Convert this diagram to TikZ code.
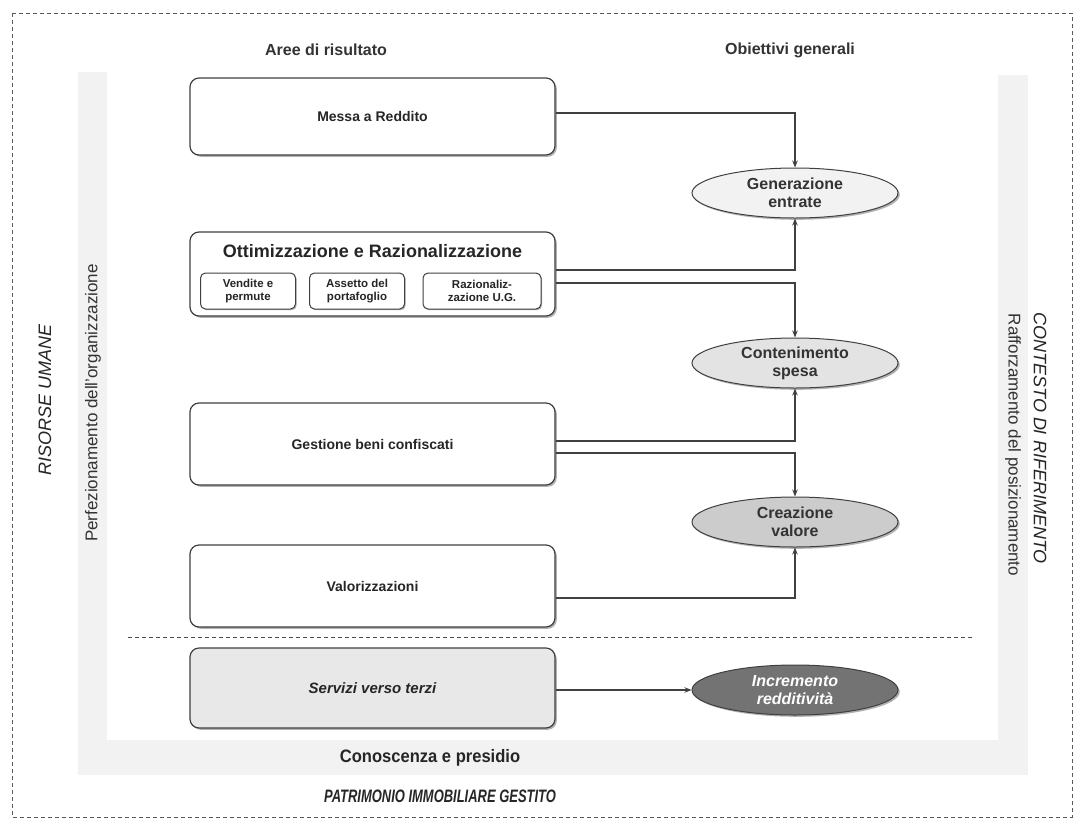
\documentclass[tikz,border=0pt]{standalone}
\usepackage{fontspec}
\setmainfont{Liberation Sans}
\usetikzlibrary{shapes.geometric,shadows,arrows.meta,calc}
\begin{document}
\begin{tikzpicture}[x=1pt,y=-1pt,
  areabox/.style={draw=black!75,line width=1.2pt,rounded corners=9pt,minimum width=365pt,fill=white,
    drop shadow={shadow xshift=1.8pt,shadow yshift=-1.8pt,fill=black!60},
    font=\fontsize{14}{16}\selectfont\bfseries,text=black!85},
  subbox/.style={draw=black!75,line width=1pt,rounded corners=5pt,fill=white,minimum height=36pt,
    drop shadow={shadow xshift=1.2pt,shadow yshift=-1.2pt,fill=black!60},
    font=\fontsize{11.5}{13.5}\selectfont\bfseries,text=black!85,align=center,inner sep=1pt},
  goal/.style={ellipse,draw=black!75,line width=1pt,minimum width=206pt,minimum height=50pt,inner sep=0pt,
    drop shadow={shadow xshift=1.8pt,shadow yshift=-1.8pt,fill=black!60},
    font=\fontsize{16}{18}\selectfont\bfseries,text=black!80,align=center},
  conn/.style={draw=black!75,line width=1.1pt},
  arr/.style={conn,-{Stealth[length=7pt,width=5.5pt]}},
  head/.style={font=\fontsize{16}{19}\selectfont\bfseries,text=black!80},
  sidelab/.style={font=\fontsize{17}{20}\selectfont,text=black!80},
  sidetitle/.style={font=\fontsize{18}{21}\selectfont\itshape,text=black!85}
]
\useasboundingbox (0,0) rectangle (1074,820);
\fill[white] (0,0) rectangle (1074,820);
% outer dashed border
\draw[black!65,line width=0.8pt,dash pattern=on 4pt off 3pt] (12,13) rectangle (1072,817);
% grey U band
\fill[black!5] (78,72) rectangle (107,775);
\fill[black!5] (78,740) rectangle (1028,775);
\fill[black!5] (998,75) rectangle (1028,775);
% headings
\node[head] (h1) at (326,50) {Aree di risultato};
\node[head] (h2) at (790,50) {Obiettivi generali};
% side labels
\node[sidetitle,rotate=90] (ru) at (45,400) {RISORSE UMANE};
\node[sidelab,rotate=90] (po) at (93,403) {Perfezionamento dell'organizzazione};
\node[sidetitle,rotate=-90] (cr) at (1040,438) {CONTESTO DI RIFERIMENTO};
\node[sidelab,rotate=-90] (rp) at (1013,445) {Rafforzamento del posizionamento};
\node[font=\fontsize{18}{20}\selectfont\bfseries,text=black!85,xscale=0.92] (cp) at (430,758) {Conoscenza e presidio};
\node[font=\fontsize{18}{20}\selectfont\bfseries\itshape,text=black!85,xscale=0.72] (pig) at (440,796) {PATRIMONIO IMMOBILIARE GESTITO};
% area boxes
\node[areabox,minimum height=77pt] (mr) at (372.5,116.5) {Messa a Reddito};
\node[areabox,minimum height=84pt] (ot) at (372.5,274) {};
\node[font=\fontsize{18}{20}\selectfont\bfseries,text=black!85] (otl) at (372.5,251) {Ottimizzazione e Razionalizzazione};
\node[subbox,minimum width=95pt] (s1) at (248,291) {Vendite e\\permute};
\node[subbox,minimum width=95pt] (s2) at (357,291) {Assetto del\\portafoglio};
\node[subbox,minimum width=118pt] (s3) at (482,291) {Razionaliz-\\zazione U.G.};
\node[areabox,minimum height=82pt] (gb) at (372.5,444) {Gestione beni confiscati};
\node[areabox,minimum height=82pt] (va) at (372.5,586) {Valorizzazioni};
% dashed separator
\coordinate (dl) at (128,637);
\coordinate (dr) at (975,637);
\draw[black!70,line width=0.9pt,dash pattern=on 4pt off 3pt] (dl) -- (dr);
\node[areabox,minimum height=80pt,fill=black!9,font=\fontsize{15}{17}\selectfont\bfseries\itshape] (sv) at (372.5,688) {Servizi verso terzi};
% goals
\node[goal,fill=black!5] (ge) at (795,193) {Generazione\\entrate};
\node[goal,fill=black!11] (cs) at (795,363) {Contenimento\\spesa};
\node[goal,fill=black!20] (cv) at (795,522) {Creazione\\valore};
\node[goal,fill=black!55,text=white,font=\fontsize{16}{18}\selectfont\bfseries\itshape] (ir) at (795,690) {Incremento\\redditività};
% connectors
\draw[arr] (mr.east |- 0,113) -| (ge.north);
\draw[arr] (ot.east |- 0,270) -| (ge.south);
\draw[arr] (ot.east |- 0,283) -| (cs.north);
\draw[arr] (gb.east |- 0,441) -| (cs.south);
\draw[arr] (gb.east |- 0,453) -| (cv.north);
\draw[arr] (va.east |- 0,598) -| (cv.south);
\draw[arr] (sv.east |- 0,690) -- (ir.west);
\end{tikzpicture}
\end{document}
